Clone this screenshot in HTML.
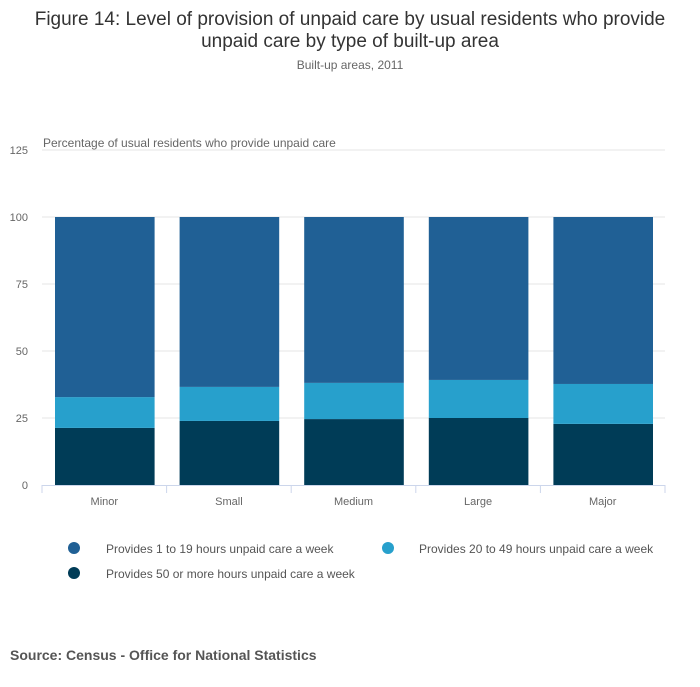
<!DOCTYPE html>
<html><head><meta charset="utf-8"><style>
body{margin:0;background:#fff;width:700px;height:682px;overflow:hidden;font-family:"Liberation Sans",sans-serif;}
</style></head><body>
<svg width="700" height="682" font-family="Liberation Sans, sans-serif">
<text x="350" y="25" text-anchor="middle" font-size="19" fill="#333">Figure 14: Level of provision of unpaid care by usual residents who provide</text>
<text x="350" y="47" text-anchor="middle" font-size="19" fill="#333">unpaid care by type of built-up area</text>
<text x="350" y="69" text-anchor="middle" font-size="12" fill="#666">Built-up areas, 2011</text>
<text x="43" y="147" font-size="12" fill="#666">Percentage of usual residents who provide unpaid care</text>
<g id="grid"></g><g id="bars"></g><g id="xaxis"></g>
<g>
<circle cx="74" cy="548" r="6" fill="#206095"/>
<text x="106" y="553" font-size="12" fill="#555">Provides 1 to 19 hours unpaid care a week</text>
<circle cx="388" cy="548" r="6" fill="#27a0cc"/>
<text x="419" y="553" font-size="12" fill="#555">Provides 20 to 49 hours unpaid care a week</text>
<circle cx="74" cy="573" r="6" fill="#003c57"/>
<text x="106" y="578" font-size="12" fill="#555">Provides 50 or more hours unpaid care a week</text>
</g>
<text x="10" y="660" font-size="14" font-weight="bold" fill="#555">Source: Census - Office for National Statistics</text>
</svg>
<script>
const categories=["Minor","Small","Medium","Large","Major"];
const s50plus=[21.3,23.9,24.6,25.0,22.8];
const s20to49=[11.5,12.7,13.5,14.2,14.9];
const s1to19=[67.2,63.4,61.9,60.8,62.3];
const yTicks=[0,25,50,75,100,125];
const NS="http://www.w3.org/2000/svg";
const x0=42,x1=665,y0=485,yMax=125,yTop=150;
const y=v=>y0-(v/yMax)*(y0-yTop);
const band=(x1-x0)/categories.length;
const grid=document.getElementById('grid'),bars=document.getElementById('bars'),xa=document.getElementById('xaxis');
function mk(tag,attrs,parent){const e=document.createElementNS(NS,tag);for(const k in attrs)e.setAttribute(k,attrs[k]);parent.appendChild(e);return e;}
yTicks.forEach(t=>{
 if(t>0){const l=mk('line',{x1:x0,x2:x1,y1:y(t),y2:y(t),stroke:'#e4e4e4'},grid);
 
 }
 const tx=mk('text',{x:28,y:y(t)+4,'text-anchor':'end','font-size':11,fill:'#666'},grid);tx.textContent=t;
 
 
});
const series=[[s50plus,'#003c57','50-plus'],[s20to49,'#27a0cc','20-49'],[s1to19,'#206095','1-19']];
categories.forEach((c,i)=>{
 let base=0;const bx=x0+i*band+13,bw=band-25;
 series.forEach(([arr,col,nm])=>{
  const r=mk('rect',{x:bx,y:y(base+arr[i]),width:bw,height:y(base)-y(base+arr[i]),fill:col},bars);
  
  
  base+=arr[i];
 });
 const t=mk('text',{x:x0+(i+0.5)*band,y:505,'text-anchor':'middle','font-size':11,fill:'#666'},xa);t.textContent=c;
 
 
});
const ax=mk('line',{x1:x0,x2:x1,y1:y0+0.5,y2:y0+0.5,stroke:'#ccd6eb'},xa);


for(let i=0;i<=categories.length;i++){const tk=mk('line',{x1:x0+i*band,x2:x0+i*band,y1:y0,y2:y0+8,stroke:'#ccd6eb'},xa);
 
 }
</script>
</body></html>
